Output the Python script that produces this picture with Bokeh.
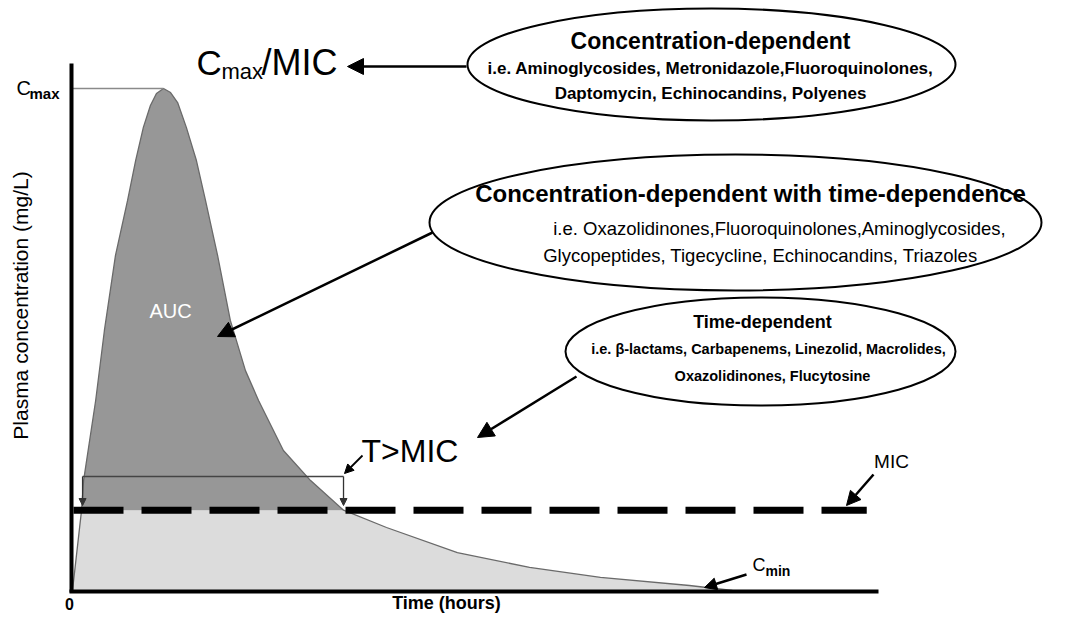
import numpy as np
from bokeh.plotting import figure
from bokeh.models import Range1d, Arrow, NormalHead
from bokeh.core.properties import value
from bokeh.embed import file_html
from bokeh.resources import INLINE

# ---------------- data ----------------
time_h = [0.0, 0.27, 0.33, 0.69, 0.95, 1.28, 1.64, 1.88, 2.11, 2.32, 2.50, 2.71,
          2.92, 3.13, 3.39, 3.69, 3.96, 4.32, 4.70, 5.15, 5.54, 6.28, 7.09, 8.07,
          9.35, 11.46, 13.61, 15.72, 18.37, 19.65]
conc_mgL = [0.0, 3.2, 4.38, 7.57, 10.36, 13.35, 15.54, 17.13, 18.45, 19.32, 19.80, 20.0,
            19.84, 19.44, 18.45, 17.13, 15.54, 13.35, 10.76, 8.76, 7.57, 5.58, 4.38, 3.2,
            2.51, 1.51, 0.92, 0.52, 0.20, 0.0]
mic_mgL = 3.2
cmax_mgL = 20.0
t_peak_h = 2.71
t_axis_end_h = 24.0
c_axis_top_mgL = 21.0
mic_line_end_h = 23.65
tmic_start_h = 0.30
tmic_end_h = 8.07

ell1_lines = ["Concentration-dependent",
              "i.e. Aminoglycosides, Metronidazole,Fluoroquinolones,",
              "Daptomycin, Echinocandins, Polyenes"]
ell2_lines = ["Concentration-dependent with time-dependence",
              "i.e. Oxazolidinones,Fluoroquinolones,Aminoglycosides,",
              "Glycopeptides, Tigecycline, Echinocandins, Triazoles"]
ell3_lines = ["Time-dependent",
              "i.e. \u03b2-lactams, Carbapenems, Linezolid, Macrolides,",
              "Oxazolidinones, Flucytosine"]

# ---------------- layout helpers (picture pixel -> data units) ----------------
W, H = 1062, 614
PX_T = t_axis_end_h / 806.0
PX_C = cmax_mgL / 502.0
def X(px):
    return (px - 72) * PX_T
def Y(py):
    return (590 - py) * PX_C

FONT = value("Liberation Sans")

p = figure(width=W, height=H, x_range=Range1d(X(0), X(W)),
           y_range=Range1d(Y(H), Y(0)), output_backend="svg",
           toolbar_location=None, x_axis_type=None, y_axis_type=None,
           min_border=0)
p.outline_line_color = None
p.background_fill_color = "white"
p.border_fill_color = "white"

t = np.array(time_h)
c = np.array(conc_mgL)

# areas
p.varea(x=t, y1=0, y2=np.minimum(c, mic_mgL), fill_color="#dcdcdc")
p.varea(x=t, y1=mic_mgL, y2=np.maximum(c, mic_mgL), fill_color="#979797")
p.line(t, c, line_color="#6a6a6a", line_width=1.3)

# Cmax reference line
p.line([0, t_peak_h], [cmax_mgL, cmax_mgL], line_color="#8a8a8a", line_width=1.5)

# MIC dashed line
p.line([X(73), mic_line_end_h], [mic_mgL, mic_mgL], line_color="black",
       line_width=7, line_dash="50 18")

# axes lines
p.line([X(71), X(71)], [Y(592), c_axis_top_mgL], line_color="black", line_width=4)
p.line([X(69), t_axis_end_h], [Y(591), Y(591)], line_color="black", line_width=4)

# T>MIC bracket
yb = Y(476)
p.line([tmic_start_h, tmic_end_h], [yb, yb], line_color="#444444", line_width=1.5)
for tx in (tmic_start_h, tmic_end_h):
    p.add_layout(Arrow(end=NormalHead(size=7, fill_color="#333333", line_color="#333333"),
                       x_start=tx, y_start=yb, x_end=tx, y_end=Y(505),
                       line_color="#333333", line_width=1.3))

def txt(x, y, s, size, color="black", align="left", style="normal", angle=0.0, baseline="middle"):
    p.text(x=[x], y=[y], text=[s], text_font=FONT, text_font_size=f"{size}px",
           text_color=color, text_align=align, text_baseline=baseline,
           text_font_style=style, angle=angle)

# axis labels
txt(X(20), Y(305), "Plasma concentration (mg/L)", 21, align="center", angle=np.pi / 2)
txt(X(69), Y(603), "0", 16, align="center", style="bold")
txt(X(446), Y(602), "Time (hours)", 18, align="center", style="bold")

# Cmax label
txt(X(16), Y(87), "C", 20)
txt(X(29), Y(93), "max", 15, style="bold")

# Cmax/MIC
txt(X(196), Y(62), "C", 35)
txt(X(221), Y(71), "max", 22)
txt(X(261), Y(62), "/MIC", 36)

# AUC
txt(X(170), Y(310), "AUC", 20, color="white", align="center")

# T>MIC
txt(X(361), Y(450), "T>MIC", 32)

# MIC label
txt(X(891), Y(461), "MIC", 19, align="center")

# Cmin label
txt(X(752), Y(564), "C", 18)
txt(X(765), Y(570), "min", 14, style="bold")

# ellipses
ells = [(711, 64, 488, 112), (735, 222, 612, 136), (760, 351, 390, 108)]
for (cx, cy, w, h) in ells:
    p.ellipse(x=[X(cx)], y=[Y(cy)], width=[w * PX_T], height=[h * PX_C],
              fill_color="white", line_color="black", line_width=2)

txt(X(710), Y(40), ell1_lines[0], 23, align="center", style="bold")
txt(X(710), Y(68), ell1_lines[1], 17, align="center", style="bold")
txt(X(710), Y(93), ell1_lines[2], 17, align="center", style="bold")

txt(X(750), Y(193), ell2_lines[0], 24, align="center", style="bold")
txt(X(779), Y(228), ell2_lines[1], 18.5, align="center")
txt(X(760), Y(255), ell2_lines[2], 18.5, align="center")

txt(X(762), Y(321), ell3_lines[0], 18, align="center", style="bold")
txt(X(768), Y(348), ell3_lines[1], 14.5, align="center", style="bold")
txt(X(772), Y(375), ell3_lines[2], 14.5, align="center", style="bold")

# arrows
def arrow(x0, y0, x1, y1, size=14, lw=2.5):
    p.add_layout(Arrow(end=NormalHead(size=size, fill_color="black", line_color="black"),
                       x_start=X(x0), y_start=Y(y0), x_end=X(x1), y_end=Y(y1),
                       line_color="black", line_width=lw))

arrow(466, 66, 347, 66, 16)
arrow(432, 232, 217, 336, 16)
arrow(576, 376, 477, 437, 16)
arrow(362, 455, 344, 473, 9, 1.8)
arrow(873, 474, 846, 505, 14)
arrow(746, 574, 704, 587, 12)

open("out.html", "w").write(file_html(p, INLINE))
